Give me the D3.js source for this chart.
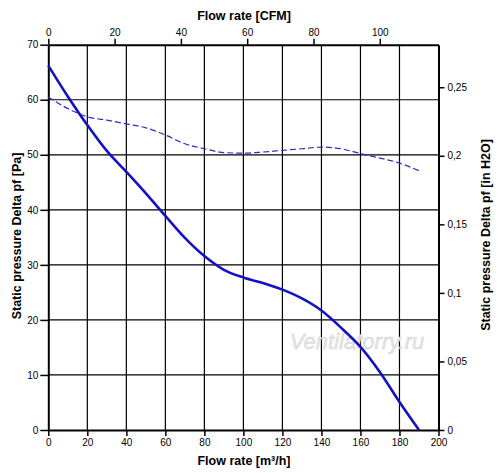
<!DOCTYPE html>
<html>
<head>
<meta charset="utf-8">
<script src="https://cdn.jsdelivr.net/npm/d3@7"></script>
<style>
  body { margin: 0; background: #fff; }
  svg { font-family: "Liberation Sans", Arial, sans-serif; }
</style>
</head>
<body>
<div id="graph"></div>
<script>
// Flow rate in m3/h
const flow = [0, 10, 20, 30, 40, 50, 60, 70, 80, 90, 100, 110, 120, 130, 140, 150, 160, 170, 180, 190];
// Static pressure curve (solid), Pa
const pressureSolid = [66.2, 60.6, 55.4, 50.7, 46.9, 43.0, 38.9, 34.9, 31.6, 29.1, 27.7, 26.7, 25.5, 23.9, 21.7, 18.6, 15.1, 10.5, 5.1, 0];
// Second curve (dashed), Pa
const pressureDashed = [60.5, 58.4, 56.9, 56.3, 55.6, 54.9, 53.6, 52.0, 51.1, 50.4, 50.3, 50.5, 50.8, 51.1, 51.4, 51.1, 50.2, 49.4, 48.5, 47.1];

// Tick values
const flowTicks = [0, 20, 40, 60, 80, 100, 120, 140, 160, 180, 200];
const cfmTicks = [0, 20, 40, 60, 80, 100];
const paTicks = [0, 10, 20, 30, 40, 50, 60, 70];
const inTicks = [0, 0.05, 0.1, 0.15, 0.2, 0.25];

const CFM = 1.699;      // m3/h per CFM
const PA_PER_IN = 249.09;

const width = 500, height = 473;
const margin = { top: 44.7, right: 61.5, bottom: 43, left: 48.3 };

const svg = d3.select('#graph').append('svg')
    .attr('width', width)
    .attr('height', height);

const x = d3.scaleLinear().domain([0, 200]).range([margin.left, width - margin.right]);
const xCfm = d3.scaleLinear().domain([0, 200 / CFM]).range(x.range());
const y = d3.scaleLinear().domain([0, 70]).range([height - margin.bottom, margin.top]);
const yIn = d3.scaleLinear().domain([0, 70 / PA_PER_IN]).range(y.range());

// grid
const grid = svg.append('g').attr('stroke', '#000').attr('stroke-width', 1.2);
grid.selectAll('.vg').data(flowTicks.slice(1, -1)).enter().append('line')
    .attr('x1', d => x(d)).attr('x2', d => x(d))
    .attr('y1', y(0)).attr('y2', y(70));
grid.selectAll('.hg').data(paTicks.slice(1, -1)).enter().append('line')
    .attr('x1', x(0)).attr('x2', x(200))
    .attr('y1', d => y(d)).attr('y2', d => y(d));

// watermark
svg.append('text')
    .attr('x', 357).attr('y', 349)
    .attr('text-anchor', 'middle')
    .attr('font-size', 22)
    .attr('font-style', 'italic')
    .attr('fill', '#e6e6e6')
    .attr('stroke', '#d4d4d4')
    .attr('stroke-width', 0.5)
    .text('Ventilatorry.ru');

// axes
function styleAxis(g) {
    g.select('.domain').attr('stroke', '#000').attr('stroke-width', 2);
    g.selectAll('.tick line').attr('stroke', '#000').attr('stroke-width', 1.5);
    g.selectAll('.tick text').attr('font-size', 10).attr('fill', '#000')
        .attr('font-family', '"Liberation Sans", Arial, sans-serif');
}
const fmtIn = d => d === 0 ? '0' : String(d).replace('.', ',');

svg.append('g')
    .attr('transform', `translate(0,${y(0)})`)
    .call(d3.axisBottom(x).tickValues(flowTicks).tickSize(6).tickSizeOuter(0).tickPadding(3))
    .call(styleAxis);

svg.append('g')
    .attr('transform', `translate(0,${y(70)})`)
    .call(d3.axisTop(xCfm).tickValues(cfmTicks).tickSize(6).tickSizeOuter(0).tickPadding(3))
    .call(styleAxis);

svg.append('g')
    .attr('transform', `translate(${x(0)},0)`)
    .call(d3.axisLeft(y).tickValues(paTicks).tickSize(8).tickSizeOuter(0).tickPadding(2))
    .call(styleAxis);

svg.append('g')
    .attr('transform', `translate(${x(200)},0)`)
    .call(d3.axisRight(yIn).tickValues(inTicks).tickFormat(fmtIn).tickSize(6).tickSizeOuter(0).tickPadding(3))
    .call(styleAxis);

// curves
const line = (vals) => d3.line()
    .x((d, i) => x(flow[i]))
    .y(d => y(d))
    .curve(d3.curveMonotoneX)(vals);

svg.append('path')
    .attr('d', line(pressureDashed))
    .attr('fill', 'none')
    .attr('stroke', '#2a2acc')
    .attr('stroke-width', 1.2)
    .attr('stroke-dasharray', '6,3');

svg.append('path')
    .attr('d', line(pressureSolid))
    .attr('fill', 'none')
    .attr('stroke', '#1212c4')
    .attr('stroke-width', 2.6);

// titles
svg.append('text')
    .attr('x', 244).attr('y', 20)
    .attr('text-anchor', 'middle')
    .attr('font-size', 12.5).attr('font-weight', 'bold')
    .text('Flow rate [CFM]');

svg.append('text')
    .attr('x', 244).attr('y', 465)
    .attr('text-anchor', 'middle')
    .attr('font-size', 12.5).attr('font-weight', 'bold')
    .text('Flow rate [m³/h]');

svg.append('text')
    .attr('transform', 'translate(21,236) rotate(-90)')
    .attr('text-anchor', 'middle')
    .attr('font-size', 12.5).attr('font-weight', 'bold')
    .text('Static pressure Delta pf [Pa]');

svg.append('text')
    .attr('transform', 'translate(490,235) rotate(-90)')
    .attr('text-anchor', 'middle')
    .attr('font-size', 12.5).attr('font-weight', 'bold')
    .text('Static pressure Delta pf [in H2O]');
</script>
</body>
</html>
